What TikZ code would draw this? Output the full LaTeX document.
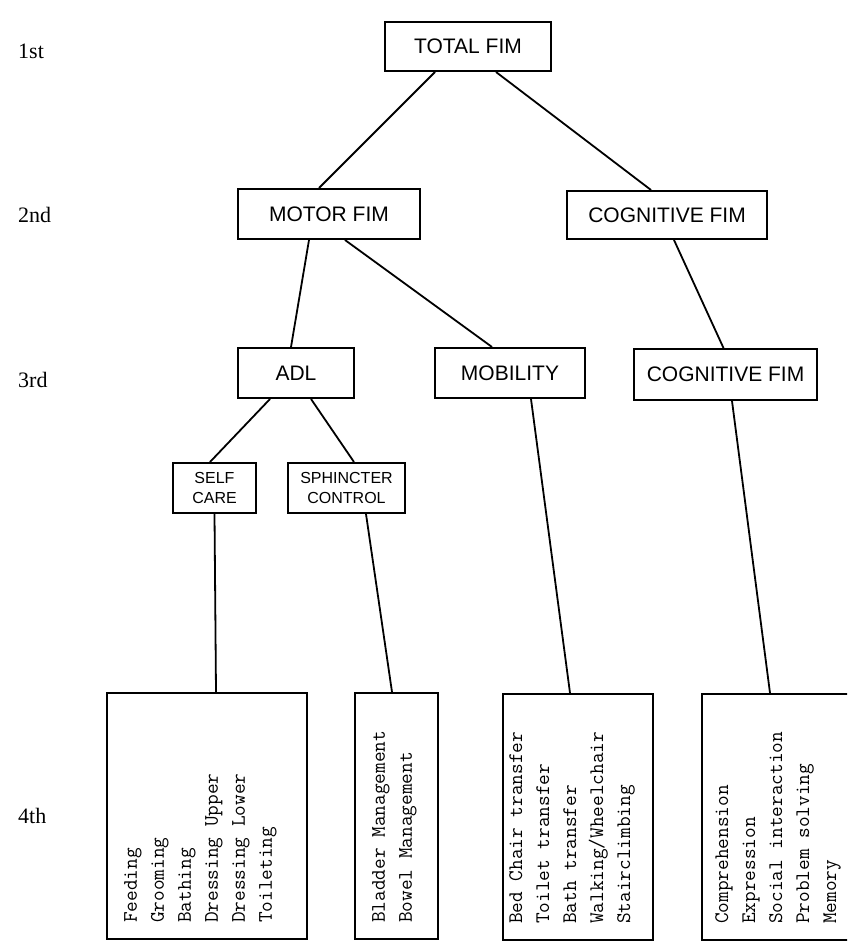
\documentclass[tikz,border=0pt]{standalone}
\usepackage{fontspec}
\setmainfont{Liberation Serif}
\newfontfamily\hsans{Liberation Sans}
\begin{document}
\begin{tikzpicture}[x=1pt,y=-1pt,
  box/.style={draw, line width=2pt, inner sep=0pt, align=center,
    font=\hsans\fontsize{21}{25}\selectfont},
  small/.style={box, font=\hsans\fontsize{16}{20}\selectfont},
  big/.style={draw, line width=2pt, inner sep=0pt},
  list/.style={rotate=90, anchor=north west, align=left, inner sep=0pt,
    font=\ttfamily\fontsize{20.7}{27}\selectfont},
  lvl/.style={anchor=base west, inner sep=0pt, font=\fontsize{22}{26}\selectfont},
  conn/.style={line width=1.8pt}]
\clip (0,0) rectangle (847,945);
\fill[white] (0,0) rectangle (847,945);

% level labels
\node[lvl] (l1) at (18,58) {1st};
\node[lvl] (l2) at (18,222) {2nd};
\node[lvl] (l3) at (18,387) {3rd};
\node[lvl] (l4) at (18,823) {4th};

% boxes
\node[box, minimum width=166pt, minimum height=49pt] (tot) at (468,46.5) {TOTAL FIM};
\node[box, minimum width=182pt, minimum height=50pt] (mot) at (329,214) {MOTOR FIM};
\node[box, minimum width=200pt, minimum height=48pt] (cog2) at (667,215) {COGNITIVE FIM};
\node[box, minimum width=116pt, minimum height=50pt] (adl) at (296,373) {ADL};
\node[box, minimum width=150pt, minimum height=50pt] (mob) at (510,373) {MOBILITY};
\node[box, minimum width=183pt, minimum height=51pt] (cog3) at (725.5,374.5) {COGNITIVE FIM};
\node[small, minimum width=83pt, minimum height=50pt] (self) at (214.5,488) {SELF\\CARE};
\node[small, minimum width=117pt, minimum height=50pt] (sph) at (346.5,488) {SPHINCTER\\CONTROL};

\node[big, minimum width=200pt, minimum height=246pt] (b1) at (207,816) {};
\node[big, minimum width=83pt, minimum height=246pt] (b2) at (396.5,816) {};
\node[big, minimum width=150pt, minimum height=246pt] (b3) at (578,817) {};
\node[big, minimum width=160pt, minimum height=246pt] (b4) at (782,817) {};

% lists
\node[list] (t1) at (124,923) {Feeding\\Grooming\\Bathing\\Dressing Upper\\Dressing Lower\\Toileting};
\node[list] (t2) at (372,923) {Bladder Management\\Bowel Management};
\node[list] (t3) at (509,924) {Bed Chair transfer\\Toilet transfer\\Bath transfer\\Walking/Wheelchair\\Stairclimbing};
\node[list] (t4) at (715,924) {Comprehension\\Expression\\Social interaction\\Problem solving\\Memory};

% connectors
\draw[conn] ([xshift=-33]tot.south) -- ([xshift=-10]mot.north);
\draw[conn] ([xshift=28]tot.south) -- ([xshift=-16]cog2.north);
\draw[conn] ([xshift=-20]mot.south) -- ([xshift=-5]adl.north);
\draw[conn] ([xshift=16]mot.south) -- ([xshift=-18]mob.north);
\draw[conn] ([xshift=7]cog2.south) -- ([xshift=-2]cog3.north);
\draw[conn] ([xshift=-26]adl.south) -- ([xshift=-4.5]self.north);
\draw[conn] ([xshift=15]adl.south) -- ([xshift=7.5]sph.north);
\draw[conn] ([xshift=21]mob.south) -- ([xshift=-8]b3.north);
\draw[conn] ([xshift=6.5]cog3.south) -- ([xshift=-12]b4.north);
\draw[conn] (self.south) -- ([xshift=9]b1.north);
\draw[conn] ([xshift=19.5]sph.south) -- ([xshift=-4.5]b2.north);
\end{tikzpicture}
\end{document}
